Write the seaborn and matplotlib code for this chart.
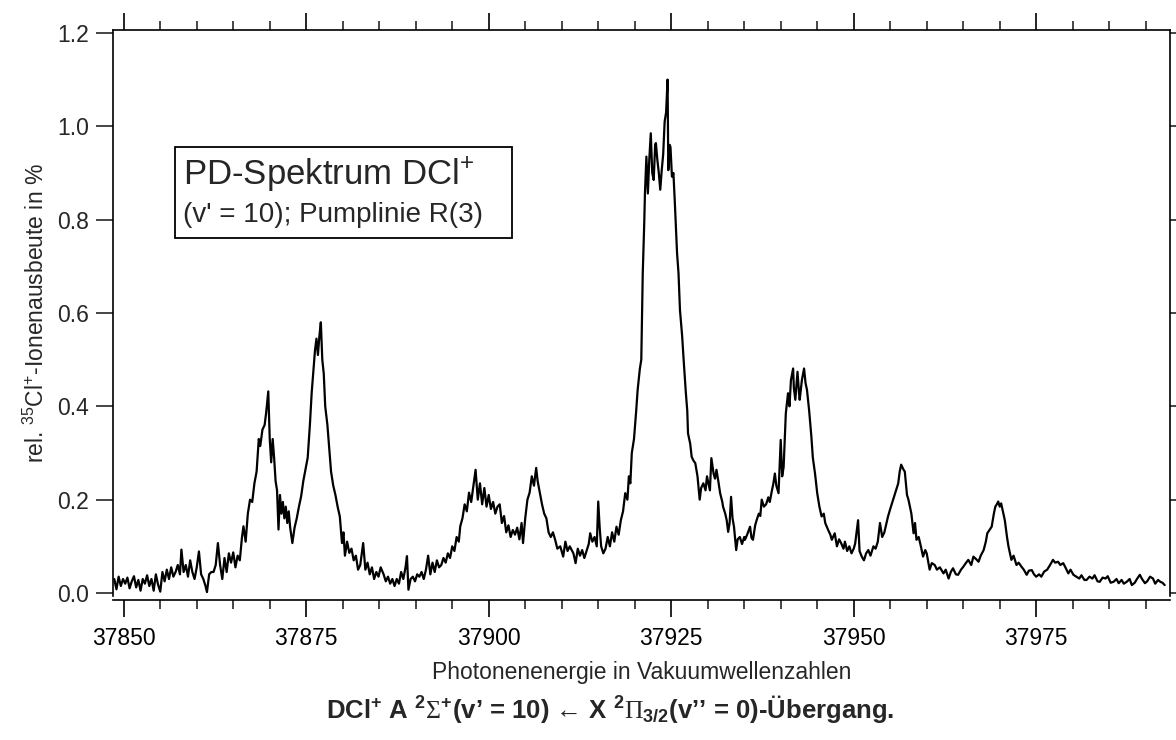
import numpy as np
import pandas as pd
import matplotlib
matplotlib.use("Agg")
import matplotlib.pyplot as plt
import seaborn as sns
from matplotlib.ticker import MultipleLocator
from matplotlib.patches import Rectangle

# ---------------- data ----------------
wavenumber = [
    37848.7, 37849.0, 37849.3, 37849.6, 37849.9, 37850.2, 37850.5, 37850.8, 37851.1, 37851.4,
    37851.7, 37852.0, 37852.3, 37852.6, 37852.9, 37853.2, 37853.5, 37853.8, 37854.1, 37854.4,
    37854.7, 37855.0, 37855.3, 37855.6, 37855.9, 37856.2, 37856.5, 37856.8, 37857.1, 37857.4,
    37857.7, 37857.9, 37858.2, 37858.5, 37858.8, 37859.1, 37859.4, 37859.7, 37860.0, 37860.3,
    37860.6, 37860.9, 37861.2, 37861.4, 37861.7, 37862.0, 37862.3, 37862.6, 37862.9, 37863.2,
    37863.5, 37863.8, 37864.1, 37864.4, 37864.7, 37865.0, 37865.3, 37865.6, 37865.9, 37866.2,
    37866.4, 37866.7, 37867.0, 37867.3, 37867.6, 37867.9, 37868.2, 37868.5, 37868.7, 37869.0,
    37869.3, 37869.5, 37869.8, 37870.0, 37870.2, 37870.4, 37870.6, 37870.8, 37871.0, 37871.2,
    37871.4, 37871.6, 37871.8, 37872.0, 37872.2, 37872.4, 37872.6, 37872.8, 37873.1, 37873.4,
    37873.7, 37874.0, 37874.3, 37874.6, 37874.9, 37875.2, 37875.5, 37875.75, 37876.0, 37876.2,
    37876.4, 37876.6, 37876.8, 37877.0, 37877.2, 37877.4, 37877.6, 37877.9, 37878.2, 37878.4,
    37878.7, 37879.0, 37879.3, 37879.6, 37879.9, 37880.1, 37880.3, 37880.6, 37880.9, 37881.2,
    37881.5, 37881.8, 37882.1, 37882.4, 37882.8, 37883.1, 37883.4, 37883.7, 37884.0, 37884.3,
    37884.6, 37884.9, 37885.2, 37885.6, 37885.9, 37886.2, 37886.5, 37886.8, 37887.1, 37887.4,
    37887.7, 37888.0, 37888.3, 37888.6, 37888.8, 37889.0, 37889.3, 37889.6, 37889.9, 37890.2,
    37890.5, 37890.8, 37891.1, 37891.4, 37891.7, 37892.0, 37892.3, 37892.6, 37892.9, 37893.2,
    37893.5, 37893.8, 37894.1, 37894.4, 37894.7, 37895.0, 37895.3, 37895.6, 37895.9, 37896.1,
    37896.4, 37896.7, 37897.0, 37897.3, 37897.6, 37897.9, 37898.2, 37898.5, 37898.8, 37899.1,
    37899.4, 37899.7, 37900.0, 37900.3, 37900.6, 37900.9, 37901.2, 37901.5, 37901.8, 37902.1,
    37902.4, 37902.7, 37903.0, 37903.3, 37903.6, 37903.9, 37904.2, 37904.5, 37904.7, 37905.0,
    37905.3, 37905.6, 37905.9, 37906.2, 37906.5, 37906.7, 37907.0, 37907.3, 37907.6, 37907.9,
    37908.2, 37908.5, 37908.8, 37909.1, 37909.4, 37909.8, 37910.2, 37910.5, 37910.8, 37911.1,
    37911.6, 37911.9, 37912.2, 37912.5, 37912.8, 37913.1, 37913.4, 37913.7, 37913.9, 37914.2,
    37914.5, 37914.8, 37915.0, 37915.2, 37915.4, 37915.7, 37916.0, 37916.3, 37916.6, 37916.9,
    37917.2, 37917.5, 37917.8, 37918.1, 37918.4, 37918.7, 37919.0, 37919.2, 37919.4, 37919.6,
    37919.9, 37920.2, 37920.4, 37920.7, 37920.9, 37921.1, 37921.3, 37921.4, 37921.6, 37921.8,
    37922.0, 37922.2, 37922.4, 37922.6, 37922.8, 37922.9, 37923.1, 37923.3, 37923.5, 37923.7,
    37923.9, 37924.1, 37924.3, 37924.5, 37924.6, 37924.8, 37924.9, 37925.1, 37925.3, 37925.5,
    37925.7, 37925.8, 37926.0, 37926.2, 37926.5, 37926.7, 37927.0, 37927.2, 37927.3, 37927.6,
    37927.8, 37928.0, 37928.3, 37928.6, 37928.9, 37929.1, 37929.4, 37929.7, 37929.9, 37930.1,
    37930.3, 37930.5, 37930.8, 37931.0, 37931.2, 37931.5, 37931.7, 37932.0, 37932.1, 37932.4,
    37932.6, 37932.8, 37933.0, 37933.2, 37933.4, 37933.6, 37933.9, 37934.1, 37934.4, 37934.7,
    37935.0, 37935.1, 37935.4, 37935.8, 37936.0, 37936.2, 37936.5, 37936.7, 37937.0, 37937.2,
    37937.4, 37937.7, 37938.0, 37938.3, 37938.5, 37938.8, 37939.0, 37939.2, 37939.4, 37939.7,
    37940.0, 37940.2, 37940.4, 37940.7, 37941.0, 37941.2, 37941.4, 37941.7, 37941.8, 37942.0,
    37942.3, 37942.5, 37942.6, 37942.9, 37943.2, 37943.4, 37943.6, 37943.9, 37944.2, 37944.4,
    37944.7, 37945.0, 37945.3, 37945.6, 37945.9, 37946.1, 37946.5, 37946.8, 37947.0, 37947.4,
    37947.7, 37948.0, 37948.3, 37948.6, 37948.8, 37949.1, 37949.4, 37949.7, 37950.0, 37950.2,
    37950.6, 37950.8, 37951.1, 37951.4, 37951.7, 37952.0, 37952.3, 37952.7, 37953.0, 37953.3,
    37953.6, 37953.9, 37954.2, 37954.5, 37954.7, 37955.0, 37955.4, 37955.7, 37956.1, 37956.3,
    37956.5, 37956.8, 37957.0, 37957.3, 37957.5, 37957.9, 37958.2, 37958.4, 37958.6, 37958.9,
    37959.2, 37959.5, 37959.8, 37960.0, 37960.4, 37960.7, 37961.1, 37961.4, 37961.8, 37962.3,
    37962.6, 37963.0, 37963.3, 37963.6, 37964.0, 37964.3, 37964.7, 37965.0, 37965.4, 37965.7,
    37966.1, 37966.4, 37966.8, 37967.1, 37967.4, 37967.8, 37968.1, 37968.3, 37968.6, 37968.9,
    37969.2, 37969.4, 37969.6, 37969.8, 37970.0, 37970.2, 37970.5, 37970.7, 37971.0, 37971.2,
    37971.6, 37971.9, 37972.3, 37972.6, 37973.0, 37973.3, 37973.7, 37974.0, 37974.4, 37974.7,
    37975.0, 37975.4, 37975.7, 37976.1, 37976.5, 37976.9, 37977.3, 37977.6, 37978.0, 37978.3,
    37978.7, 37979.0, 37979.4, 37979.7, 37980.1, 37980.5, 37980.9, 37981.2, 37981.6, 37981.9,
    37982.3, 37982.7, 37983.0, 37983.4, 37983.7, 37984.1, 37984.5, 37984.8, 37985.2, 37985.6,
    37986.0, 37986.3, 37986.7, 37987.0, 37987.4, 37987.8, 37988.1, 37988.5, 37988.8, 37989.2,
    37989.5, 37989.9, 37990.2, 37990.6, 37991.0, 37991.3, 37991.7, 37992.0, 37992.3, 37992.6,
]

ion_yield = [
    0.030, 0.008, 0.035, 0.015, 0.030, 0.020, 0.033, 0.010, 0.025, 0.036,
    0.012, 0.028, 0.005, 0.030, 0.020, 0.038, 0.015, 0.030, 0.005, 0.040,
    0.018, 0.003, 0.045, 0.025, 0.050, 0.030, 0.055, 0.035, 0.045, 0.060,
    0.040, 0.093, 0.045, 0.060, 0.035, 0.070, 0.045, 0.030, 0.055, 0.089,
    0.040, 0.030, 0.015, 0.002, 0.040, 0.045, 0.045, 0.060, 0.107, 0.060,
    0.030, 0.075, 0.045, 0.085, 0.065, 0.087, 0.055, 0.080, 0.070, 0.120,
    0.143, 0.110, 0.170, 0.200, 0.195, 0.235, 0.260, 0.330, 0.315, 0.350,
    0.360, 0.385, 0.432, 0.330, 0.280, 0.330, 0.290, 0.240, 0.220, 0.136,
    0.210, 0.170, 0.195, 0.160, 0.185, 0.150, 0.175, 0.140, 0.107, 0.140,
    0.160, 0.185, 0.207, 0.240, 0.265, 0.290, 0.360, 0.430, 0.480, 0.520,
    0.545, 0.510, 0.550, 0.580, 0.500, 0.470, 0.400, 0.360, 0.300, 0.260,
    0.230, 0.210, 0.185, 0.164, 0.107, 0.130, 0.080, 0.110, 0.086, 0.095,
    0.070, 0.080, 0.050, 0.060, 0.107, 0.050, 0.065, 0.040, 0.055, 0.030,
    0.045, 0.035, 0.055, 0.040, 0.025, 0.035, 0.020, 0.030, 0.015, 0.030,
    0.020, 0.045, 0.030, 0.055, 0.079, 0.007, 0.030, 0.035, 0.025, 0.040,
    0.035, 0.045, 0.030, 0.050, 0.080, 0.040, 0.065, 0.045, 0.070, 0.055,
    0.060, 0.075, 0.065, 0.085, 0.075, 0.100, 0.090, 0.120, 0.110, 0.143,
    0.160, 0.190, 0.175, 0.215, 0.195, 0.230, 0.264, 0.200, 0.235, 0.190,
    0.225, 0.185, 0.210, 0.180, 0.195, 0.170, 0.185, 0.190, 0.150, 0.165,
    0.130, 0.145, 0.120, 0.135, 0.125, 0.140, 0.115, 0.150, 0.107, 0.160,
    0.200, 0.215, 0.250, 0.230, 0.268, 0.240, 0.215, 0.190, 0.170, 0.160,
    0.130, 0.120, 0.130, 0.114, 0.095, 0.100, 0.078, 0.110, 0.090, 0.100,
    0.085, 0.064, 0.095, 0.080, 0.092, 0.075, 0.090, 0.105, 0.128, 0.110,
    0.120, 0.100, 0.196, 0.140, 0.100, 0.085, 0.095, 0.120, 0.100, 0.130,
    0.110, 0.142, 0.125, 0.156, 0.175, 0.214, 0.200, 0.250, 0.235, 0.300,
    0.330, 0.390, 0.435, 0.480, 0.500, 0.685, 0.790, 0.856, 0.935, 0.856,
    0.930, 0.985, 0.900, 0.885, 0.960, 0.964, 0.928, 0.900, 0.864, 0.906,
    0.940, 1.010, 1.030, 1.100, 0.906, 0.960, 0.955, 0.892, 0.900, 0.835,
    0.760, 0.728, 0.685, 0.606, 0.550, 0.500, 0.430, 0.390, 0.342, 0.320,
    0.292, 0.285, 0.278, 0.250, 0.200, 0.225, 0.235, 0.220, 0.250, 0.235,
    0.220, 0.289, 0.256, 0.245, 0.264, 0.235, 0.214, 0.195, 0.185, 0.170,
    0.156, 0.131, 0.150, 0.206, 0.160, 0.142, 0.092, 0.115, 0.120, 0.105,
    0.120, 0.114, 0.125, 0.142, 0.118, 0.114, 0.145, 0.156, 0.170, 0.165,
    0.200, 0.185, 0.190, 0.205, 0.195, 0.220, 0.235, 0.256, 0.230, 0.214,
    0.328, 0.250, 0.270, 0.385, 0.428, 0.400, 0.456, 0.481, 0.440, 0.414,
    0.474, 0.430, 0.414, 0.456, 0.481, 0.450, 0.435, 0.390, 0.335, 0.290,
    0.256, 0.214, 0.185, 0.164, 0.170, 0.150, 0.135, 0.125, 0.114, 0.128,
    0.100, 0.115, 0.106, 0.095, 0.110, 0.090, 0.100, 0.085, 0.095, 0.106,
    0.156, 0.090, 0.078, 0.070, 0.085, 0.092, 0.080, 0.100, 0.095, 0.110,
    0.150, 0.120, 0.130, 0.150, 0.164, 0.180, 0.200, 0.215, 0.235, 0.260,
    0.275, 0.265, 0.260, 0.210, 0.200, 0.170, 0.128, 0.150, 0.114, 0.120,
    0.100, 0.078, 0.092, 0.085, 0.050, 0.064, 0.060, 0.050, 0.055, 0.042,
    0.050, 0.031, 0.045, 0.053, 0.040, 0.039, 0.050, 0.056, 0.065, 0.071,
    0.060, 0.078, 0.072, 0.067, 0.080, 0.092, 0.110, 0.128, 0.135, 0.142,
    0.170, 0.185, 0.190, 0.196, 0.185, 0.192, 0.170, 0.156, 0.120, 0.100,
    0.071, 0.080, 0.060, 0.065, 0.056, 0.050, 0.039, 0.048, 0.049, 0.040,
    0.035, 0.040, 0.035, 0.046, 0.050, 0.060, 0.071, 0.065, 0.067, 0.060,
    0.064, 0.055, 0.042, 0.050, 0.039, 0.035, 0.031, 0.038, 0.028, 0.028,
    0.035, 0.031, 0.038, 0.025, 0.024, 0.033, 0.031, 0.036, 0.022, 0.024,
    0.030, 0.021, 0.028, 0.020, 0.024, 0.030, 0.017, 0.022, 0.030, 0.039,
    0.030, 0.021, 0.025, 0.035, 0.031, 0.020, 0.028, 0.024, 0.022, 0.017,
]

x_major_ticks = [37850, 37875, 37900, 37925, 37950, 37975]
y_major_ticks = [0.0, 0.2, 0.4, 0.6, 0.8, 1.0, 1.2]

x_label = "Photonenenergie in Vakuumwellenzahlen"
y_label = r"rel. $^{35}$Cl$^{+}$-Ionenausbeute in %"
box_line1 = r"PD-Spektrum DCl$^{+}$"
box_line2 = "(v' = 10); Pumplinie R(3)"
caption = (r"DCl$^{\mathbf{+}}$ A $^{\mathbf{2}}\mathcal{\Sigma}^{\mathbf{+}}$(v’ = 10) "
           "\u2190"
           r" X $^{\mathbf{2}}\mathcal{\Pi}_{\mathbf{3/2}}$(v’’ = 0)-Übergang.")

# ---------------- style ----------------
sns.set_style("ticks")
plt.rcParams["font.family"] = ["Liberation Sans", "DejaVu Sans"]
plt.rcParams["mathtext.fontset"] = "custom"
plt.rcParams["mathtext.rm"] = "Liberation Sans"
plt.rcParams["mathtext.it"] = "Liberation Sans:italic"
plt.rcParams["mathtext.bf"] = "Liberation Sans:bold"
plt.rcParams["mathtext.cal"] = "Liberation Serif"

df = pd.DataFrame({"wn": wavenumber, "y": ion_yield})

fig = plt.figure(figsize=(11.76, 7.4), dpi=100)
ax = fig.add_axes([0.0961, 0.1946, 0.8988, 0.7649])

sns.lineplot(data=df, x="wn", y="y", ax=ax, color="black", linewidth=1.6,
             estimator=None, sort=True, legend=False)

ax.set_xlim(37848.53, 37993.33)
ax.set_ylim(-0.0064, 1.2063)

ax.xaxis.set_major_locator(MultipleLocator(25))
ax.xaxis.set_minor_locator(MultipleLocator(5))
ax.set_xticks(x_major_ticks)
ax.set_yticks(y_major_ticks)
ax.set_yticklabels([f"{v:.1f}" for v in y_major_ticks])
ax.set_xticklabels([str(v) for v in x_major_ticks])

for side in ["left", "right", "top", "bottom"]:
    ax.spines[side].set_visible(True)
    ax.spines[side].set_linewidth(1.2)
    ax.spines[side].set_color("black")
ax.spines["bottom"].set_position(("outward", 3))

ax.tick_params(axis="x", which="major", direction="out", length=12.5, width=1.2,
               top=True, bottom=True, labelsize=16.5, pad=7, colors="black")
ax.tick_params(axis="x", which="minor", direction="out", length=6.5, width=1.2,
               top=True, bottom=True)
ax.tick_params(axis="y", which="major", direction="out", length=12.5, width=1.2,
               left=True, right=True, labelright=False, labelsize=16.5, pad=5)
ax.tick_params(axis="y", which="minor", left=False, right=False)

ax.set_xlabel(x_label, fontsize=16.5, labelpad=8)
ax.set_ylabel(y_label, fontsize=16.5, labelpad=6)

# annotation box
ax.add_patch(Rectangle((0.0587, 0.6325), 0.3188, 0.1608, transform=ax.transAxes,
                       facecolor="white", edgecolor="black", linewidth=1.3, zorder=5))
ax.text(0.066, 0.726, box_line1, transform=ax.transAxes, fontsize=25,
        ha="left", va="baseline", zorder=6)
ax.text(0.066, 0.661, box_line2, transform=ax.transAxes, fontsize=20,
        ha="left", va="baseline", zorder=6)

fig.text(0.519, 0.042, caption, ha="center", va="center", fontsize=18.5,
         fontweight="bold")

fig.savefig("out.png", dpi=100)
